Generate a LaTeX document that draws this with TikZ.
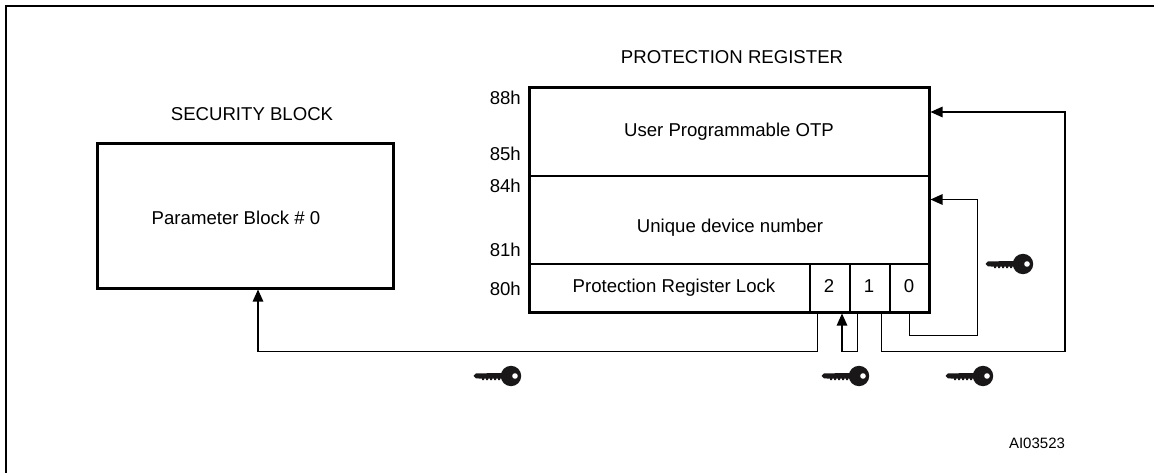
\documentclass[tikz,border=0pt]{standalone}
\usepackage{fontspec}
\setmainfont{Liberation Sans}
\usetikzlibrary{arrows.meta}
\newcommand{\keyicon}[1]{%
\begin{scope}[shift={(#1)}]
\fill[keyink] (-37.5,0) -- (-35,-2.6) -- (-6,-3) -- (-6,3) -- (-11,2.6) -- (-11,4) -- (-13,4) -- (-13,2.6) -- (-15,2.6) -- (-15,4) -- (-17,4) -- (-17,2.6) -- (-19,2.6) -- (-19,4) -- (-21,4) -- (-21,2.6) -- (-23,2.6) -- (-23,4) -- (-25,4) -- (-25,2.6) -- (-27,2.6) -- (-27,4) -- (-29,4) -- (-29,2.6) -- (-35,2.4) -- cycle;
\fill[keyink] (0,0) circle (10.2);
\fill[white] (4,0) circle (2.8);
\end{scope}}
\definecolor{keyink}{HTML}{1A1718}
\tikzset{
  heavy/.style={draw,line width=3pt,inner sep=0pt,outer sep=0pt},
  cell/.style={draw,line width=2pt,inner sep=0pt,outer sep=0pt},
  label/.style={font=\fontsize{18.6}{22}\selectfont,inner sep=0pt},
  addr/.style={label,anchor=east},
  link/.style={line width=1.2pt,line join=miter},
  linkarrow/.style={link,-{Triangle[length=12pt,width=10.5pt]}}
}
\begin{document}
\begin{tikzpicture}[x=1pt,y=-1pt]
\useasboundingbox (0,0) rectangle (1154,473);
\draw[line width=2.2pt] (6,473) -- (6,6) -- (1154,6);
\node[heavy,minimum width=296pt,minimum height=144pt] (param) at (245,216) {};
\node[label] (paramtext) at (236,218) {Parameter Block \# 0};
\node[label] (sectitle) at (252,114.5) {SECURITY BLOCK};
\node[label] (prottitle) at (732,57) {PROTECTION REGISTER};
\node[cell,minimum width=399.5pt,minimum height=88pt] (otp) at (729.25,132) {};
\node[cell,minimum width=399.5pt,minimum height=88pt] (uid) at (729.25,220) {};
\node[cell,minimum width=280pt,minimum height=48pt] (lock) at (669.5,288) {};
\node[cell,minimum width=40pt,minimum height=48pt] (bit2) at (829.5,288) {};
\node[cell,minimum width=40pt,minimum height=48pt] (bit1) at (869.5,288) {};
\node[cell,minimum width=39.5pt,minimum height=48pt] (bit0) at (909.25,288) {};
\draw[line width=3pt] (otp.north west) rectangle (bit0.south east);
\node[label] (otptext) at (729,132) {User Programmable OTP};
\node[label] (uidtext) at (730,228) {Unique device number};
\node[label] (locktext) at (674,288) {Protection Register Lock};
\node[label] (bit2text) at (829,286) {2};
\node[label] (bit1text) at (869,286) {1};
\node[label] (bit0text) at (909,286) {0};
\node[addr] (a88) at (521,98) {88h};
\node[addr] (a85) at (521,154) {85h};
\node[addr] (a84) at (521,186) {84h};
\node[addr] (a81) at (521,250) {81h};
\node[addr] (a80) at (521,289) {80h};
\coordinate (paramin) at (258,289.5);
\coordinate (otpin) at (930.5,112);
\coordinate (uidin) at (930.5,199.5);
\coordinate (bit2in) at (842,313.5);
\draw[linkarrow] (817.5,313.5) -- (817.5,351.5) -- (258,351.5) -- (paramin);
\draw[linkarrow] (857.5,313.5) -- (857.5,351.5) -- (842,351.5) -- (bit2in);
\draw[linkarrow] (881.5,313.5) -- (881.5,351.5) -- (1065,351.5) -- (1065,112) -- (otpin);
\draw[linkarrow] (909.5,313.5) -- (909.5,335.5) -- (977.5,335.5) -- (977.5,199.5) -- (uidin);
\keyicon{1023,264}
\keyicon{511,376}
\keyicon{859,376}
\keyicon{983,376}
\node[font=\fontsize{15}{18}\selectfont,inner sep=0pt] (refcode) at (1037,443) {AI03523};
\end{tikzpicture}
\end{document}
